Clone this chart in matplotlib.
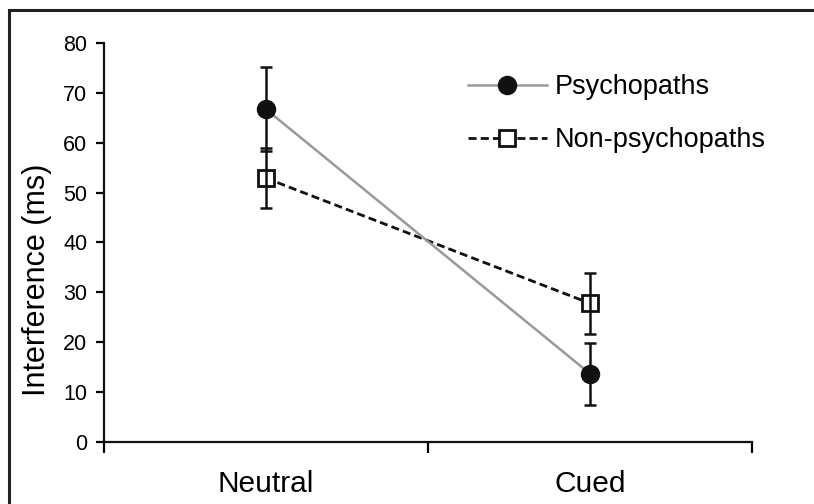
import numpy as np
import matplotlib
matplotlib.use('Agg')
import matplotlib.pyplot as plt
from matplotlib.patches import Rectangle

plt.rcParams['font.family'] = ['Liberation Sans', 'DejaVu Sans']

conditions = ['Neutral', 'Cued']
psycho_mean = [66.7, 13.7]
psycho_err = [8.4, 6.2]
nonpsycho_mean = [52.9, 27.8]
nonpsycho_err = [6.0, 6.1]

fig = plt.figure(figsize=(8.14, 5.04), dpi=100)
ax = fig.add_axes([0.1278, 0.1230, 0.7960, 0.7917])

x = np.arange(len(conditions)) + 0.5

# lines + markers
ax.plot(x, psycho_mean, color='#999999', lw=1.8, marker='o', ms=13,
        mfc='#111111', mec='#111111', label='Psychopaths', zorder=3)
ax.plot(x, nonpsycho_mean, color='#111111', lw=2.0, dashes=(2.9, 1.5),
        marker='s', ms=11, mfc='white', mec='#111111', mew=2,
        label='Non-psychopaths', zorder=2)

# error bars on top
ax.errorbar(x, nonpsycho_mean, yerr=nonpsycho_err, fmt='none', ecolor='#111111',
            elinewidth=1.8, capsize=4.5, capthick=1.8, zorder=4)
ax.errorbar(x, psycho_mean, yerr=psycho_err, fmt='none', ecolor='#111111',
            elinewidth=1.8, capsize=4.5, capthick=1.8, zorder=4)

ax.set_xlim(0, 2)
ax.set_ylim(0, 80)
ax.set_yticks(np.arange(0, 81, 10))
ax.set_xticks([0, 1, 2])
ax.set_xticklabels([])
ax.set_xticks(x, minor=True)
ax.set_xticklabels(conditions, minor=True, fontsize=21.5)
ax.tick_params(axis='x', which='minor', length=0, pad=20)
ax.tick_params(axis='x', which='major', length=8, width=1.6, direction='out')
ax.tick_params(axis='y', length=6, width=1.6, direction='out', labelsize=15.5, pad=6)

for s in ['top', 'right']:
    ax.spines[s].set_visible(False)
for s in ['left', 'bottom']:
    ax.spines[s].set_linewidth(1.6)
    ax.spines[s].set_color('#111111')

ax.set_ylabel('Interference (ms)', fontsize=22)
ax.yaxis.set_label_coords(-0.080, 0.407)

ax.legend(loc='upper left', bbox_to_anchor=(468 / 814, 1 - 74 / 504),
          bbox_transform=fig.transFigure, frameon=False, fontsize=19.5,
          numpoints=1, handlelength=2.9, handletextpad=0.3,
          labelspacing=1.0, borderpad=0, borderaxespad=0)

# outer frame
fig.patches.append(Rectangle((8.5 / 814, -0.1), 1.2, 1.1 - 10.5 / 504,
                             transform=fig.transFigure, fill=False,
                             lw=2.2, edgecolor='#222222'))

fig.savefig('out.png', dpi=100)
